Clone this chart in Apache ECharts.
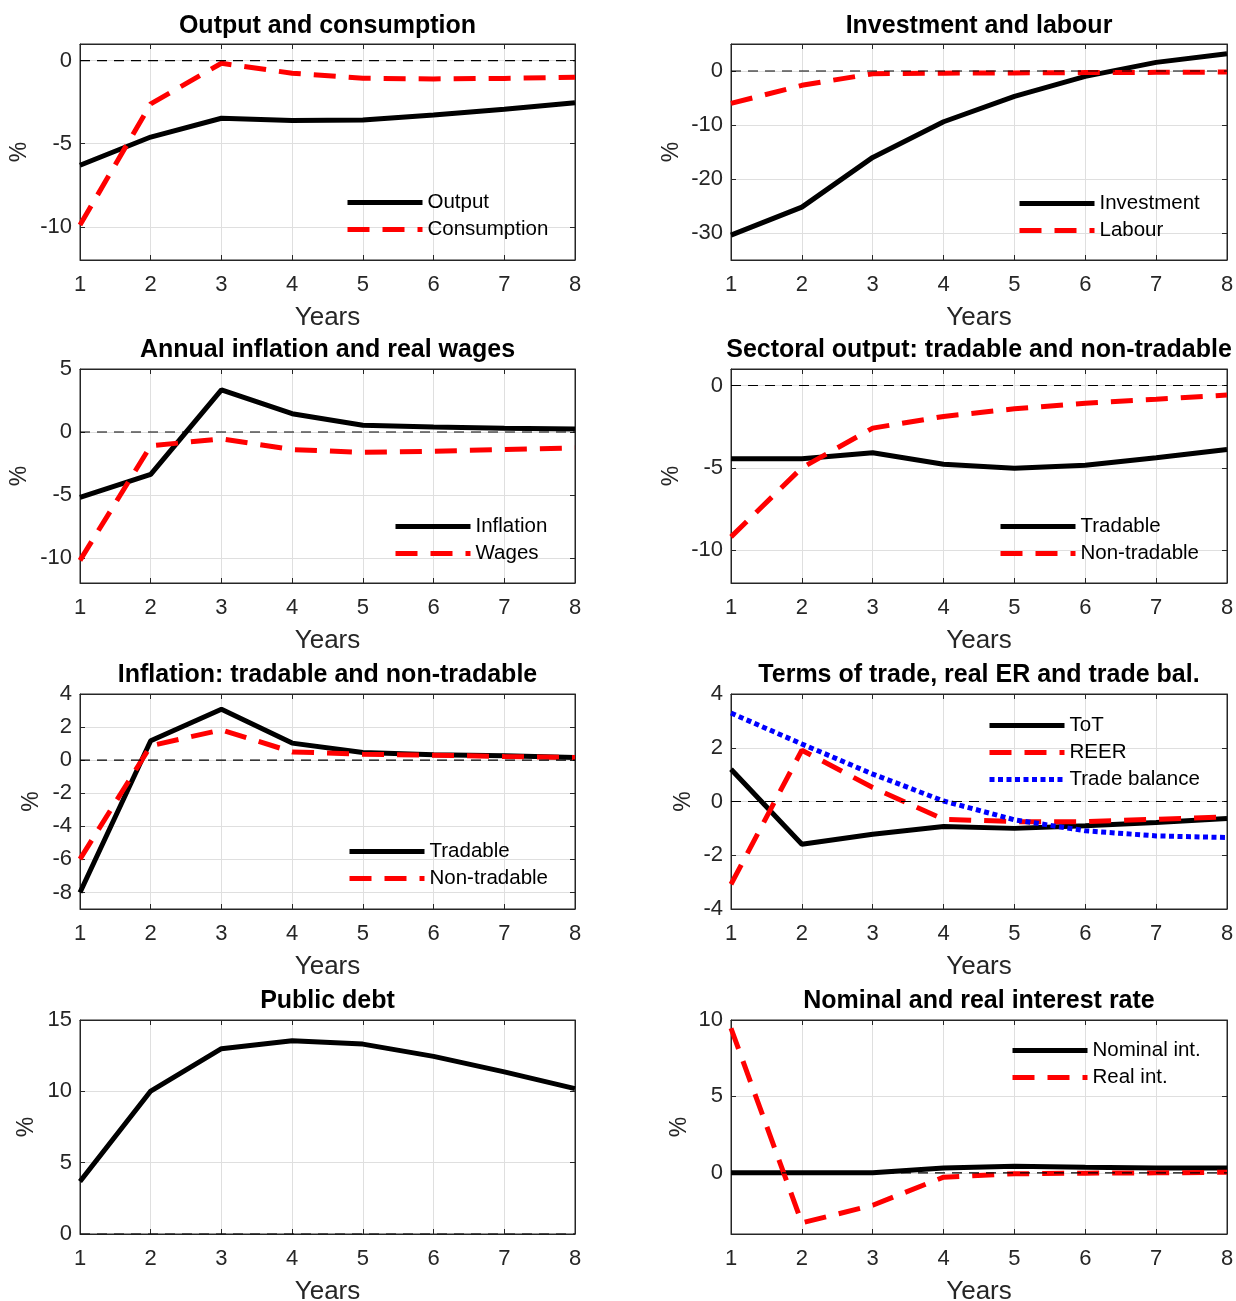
<!DOCTYPE html>
<html><head><meta charset="utf-8">
<script src="https://cdn.jsdelivr.net/npm/echarts@6/dist/echarts.min.js"></script>
<style>html,body{margin:0;padding:0;background:#fff}#c{width:1236px;height:1301px}</style>
</head><body><div id="c"></div>
<script>
// ---------- DATA ----------
const years = [1, 2, 3, 4, 5, 6, 7, 8];
const xTicks = [1, 2, 3, 4, 5, 6, 7, 8];

const output       = [-6.3, -4.6, -3.47, -3.6, -3.57, -3.27, -2.93, -2.53];
const consumption  = [-9.9, -2.6, -0.16, -0.76, -1.06, -1.1, -1.07, -1.0];

const investment   = [-30.4, -25.2, -16.0, -9.4, -4.7, -1.0, 1.6, 3.2];
const labour       = [-6.0, -2.65, -0.5, -0.4, -0.35, -0.3, -0.25, -0.2];

const inflation    = [-5.2, -3.37, 3.34, 1.45, 0.53, 0.4, 0.3, 0.24];
const wages        = [-10.2, -1.1, -0.55, -1.4, -1.62, -1.53, -1.4, -1.26];

const tradableOutput    = [-4.45, -4.45, -4.09, -4.79, -5.03, -4.85, -4.39, -3.89];
const nonTradableOutput = [-9.2, -5.0, -2.59, -1.88, -1.42, -1.08, -0.84, -0.58];

const tradableInfl    = [-8.0, 1.17, 3.08, 1.03, 0.46, 0.32, 0.26, 0.16];
const nonTradableInfl = [-5.98, 0.87, 1.83, 0.5, 0.36, 0.3, 0.22, 0.16];

const tot          = [1.2, -1.59, -1.22, -0.93, -1.0, -0.9, -0.78, -0.63];
const reer         = [-3.08, 1.91, 0.52, -0.66, -0.75, -0.75, -0.66, -0.57];
const tradeBalance = [3.29, 2.14, 1.02, 0.02, -0.68, -1.09, -1.28, -1.34];

const publicDebt   = [3.68, 10.02, 12.99, 13.54, 13.31, 12.45, 11.36, 10.19];

const nominalInt   = [0, 0, 0, 0.32, 0.43, 0.37, 0.32, 0.32];
const realInt      = [9.46, -3.27, -2.12, -0.28, -0.06, -0.02, 0, 0.04];

const zeroLine     = [0, 0, 0, 0, 0, 0, 0, 0];

const yTicks1 = [-10, -5, 0];
const yTicks2 = [-30, -20, -10, 0];
const yTicks3 = [-10, -5, 0, 5];
const yTicks4 = [-10, -5, 0];
const yTicks5 = [-8, -6, -4, -2, 0, 2, 4];
const yTicks6 = [-4, -2, 0, 2, 4];
const yTicks7 = [0, 5, 10, 15];
const yTicks8 = [0, 5, 10];

const titles = [
  'Output and consumption', 'Investment and labour',
  'Annual inflation and real wages', 'Sectoral output: tradable and non-tradable',
  'Inflation: tradable and non-tradable', 'Terms of trade, real ER and trade bal.',
  'Public debt', 'Nominal and real interest rate'
];

// ---------- LAYOUT / STYLE ----------
const FONT = "'Liberation Sans', Arial, Helvetica, sans-serif";
const AX = '#262626';
const GRIDC = '#dfdfdf';
const colLeft = [80, 731];
const colW = [495, 496];
const rowTop = [44, 369, 694, 1020];
const rowH = [216, 214, 215, 214];
const titleY = [26, 350, 675, 1001];

const LW = 5;
const STY = {
  solid: { color: '#000000', lineStyle: { color: '#000000', width: LW, type: 'solid' } },
  dash:  { color: '#ff0000', lineStyle: { color: '#ff0000', width: LW, type: [22, 13] } },
  dot:   { color: '#0000ff', lineStyle: { color: '#0000ff', width: LW, type: [5, 3.5] } }
};

const panels = [
  { ticks: yTicks1, min: -12, max: 1, nameGap: 49, legend: [345, 192],
    series: [['Output', output, 'solid'], ['Consumption', consumption, 'dash']] },
  { ticks: yTicks2, min: -35, max: 5, nameGap: 48, legend: [1017, 193],
    series: [['Investment', investment, 'solid'], ['Labour', labour, 'dash']] },
  { ticks: yTicks3, min: -12, max: 5, nameGap: 49, legend: [393, 516],
    series: [['Inflation', inflation, 'solid'], ['Wages', wages, 'dash']] },
  { ticks: yTicks4, min: -12, max: 1, nameGap: 48, legend: [998, 516],
    series: [['Tradable', tradableOutput, 'solid'], ['Non-tradable', nonTradableOutput, 'dash']] },
  { ticks: yTicks5, min: -9, max: 4, nameGap: 37, legend: [347, 841],
    series: [['Tradable', tradableInfl, 'solid'], ['Non-tradable', nonTradableInfl, 'dash']] },
  { ticks: yTicks6, min: -4, max: 4, nameGap: 36, legend: [987, 715],
    series: [['ToT', tot, 'solid'], ['REER', reer, 'dash'], ['Trade balance', tradeBalance, 'dot']] },
  { ticks: yTicks7, min: 0, max: 15, nameGap: 42, legend: null,
    series: [['Public debt', publicDebt, 'solid']] },
  { ticks: yTicks8, min: -4, max: 10, nameGap: 40, legend: [1010, 1040],
    series: [['Nominal int.', nominalInt, 'solid'], ['Real int.', realInt, 'dash']] }
];

const grid = [], xAxis = [], yAxis = [], series = [], legend = [], graphic = [];

panels.forEach((p, i) => {
  const col = i % 2, row = Math.floor(i / 2);
  grid.push({ left: colLeft[col], top: rowTop[row], width: colW[col], height: rowH[row],
    containLabel: false, outerBoundsMode: 'none',
    show: true, borderColor: AX, borderWidth: 1, backgroundColor: '#fff' });

  const baseTick = { show: true, inside: true, length: 5, lineStyle: { color: AX, width: 1 } };
  const baseLine = { show: true, onZero: false, lineStyle: { color: AX, width: 1 } };

  xAxis.push({
    gridIndex: i, type: 'value', min: 1, max: 8, interval: 1, position: 'bottom',
    axisLine: baseLine, axisTick: baseTick,
    axisLabel: { color: AX, fontSize: 22, fontFamily: FONT, margin: 14 },
    splitLine: { show: true, lineStyle: { color: GRIDC, width: 1 } },
    name: 'Years', nameLocation: 'middle', nameGap: 45,
    nameTextStyle: { color: AX, fontSize: 26, fontFamily: FONT }
  });
  xAxis.push({
    gridIndex: i, type: 'value', min: 1, max: 8, interval: 1, position: 'top',
    axisLine: baseLine, axisTick: baseTick, axisLabel: { show: false }, splitLine: { show: false }
  });
  yAxis.push({
    gridIndex: i, type: 'value', min: p.min, max: p.max, position: 'left',
    axisLine: baseLine,
    axisTick: Object.assign({}, baseTick, { customValues: p.ticks }),
    axisLabel: { color: AX, fontSize: 22, fontFamily: FONT, margin: 8, customValues: p.ticks },
    splitLine: { show: true, lineStyle: { color: GRIDC, width: 1 } },
    name: '%', nameLocation: 'middle', nameGap: p.nameGap,
    nameTextStyle: { color: AX, fontSize: 23, fontFamily: FONT }
  });
  yAxis.push({
    gridIndex: i, type: 'value', min: p.min, max: p.max, position: 'right',
    axisLine: baseLine,
    axisTick: Object.assign({}, baseTick, { customValues: p.ticks }),
    axisLabel: { show: false }, splitLine: { show: false }
  });

  p.series.forEach(([name, arr, sty]) => {
    series.push({
      name, type: 'line', xAxisIndex: 2 * i, yAxisIndex: 2 * i,
      data: years.map((x, k) => [x, arr[k]]),
      symbol: 'none', showSymbol: false, silent: true, animation: false,
      color: STY[sty].color, lineStyle: STY[sty].lineStyle, z: 3
    });
  });
  series.push({
    name: 'zero' + i, type: 'line', xAxisIndex: 2 * i, yAxisIndex: 2 * i,
    data: years.map((x, k) => [x, zeroLine[k]]),
    symbol: 'none', silent: true, animation: false,
    lineStyle: { color: '#000', width: 1.1, type: [10, 7] }, z: 4
  });

  if (p.legend) {
    legend.push({
      orient: 'vertical', left: p.legend[0], top: p.legend[1], padding: 0,
      itemWidth: 75, itemHeight: 14, itemGap: 6, selectedMode: false,
      data: p.series.map(s => s[0]),
      lineStyle: { width: LW },
      itemStyle: { opacity: 0 },
      textStyle: { color: '#000', fontSize: 20.5, fontFamily: FONT }
    });
  }

  graphic.push({
    type: 'text', x: colLeft[col] + colW[col] / 2, y: titleY[row],
    style: { text: titles[i], align: 'center', verticalAlign: 'middle',
      font: "bold 25px " + FONT, fill: '#000' }
  });
});

const chart = echarts.init(document.getElementById('c'), null, { renderer: 'canvas' });
chart.setOption({
  backgroundColor: '#fff', animation: false,
  grid, xAxis, yAxis, series, legend, graphic
});
</script>
</body></html>
